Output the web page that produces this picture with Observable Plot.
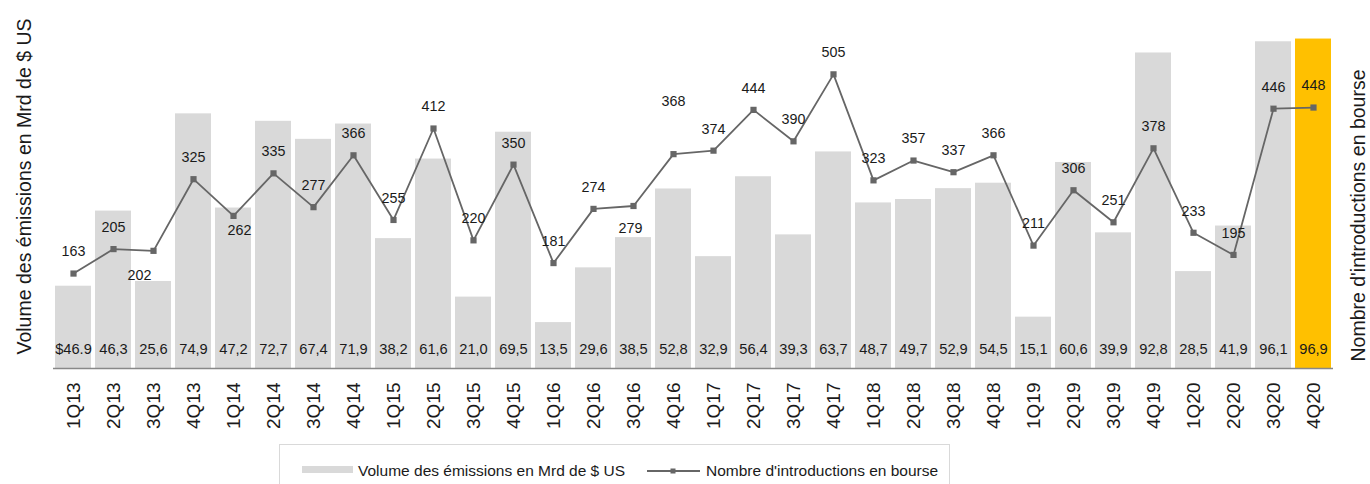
<!DOCTYPE html>
<html>
<head>
<meta charset="utf-8">
<script src="https://cdn.jsdelivr.net/npm/d3@7"></script>
<script src="https://cdn.jsdelivr.net/npm/@observablehq/plot@0.6"></script>
<style>
  body { margin: 0; background: #fff; font-family: "Liberation Sans", Arial, sans-serif; }
  #wrap { position: relative; width: 1370px; height: 484px; overflow: hidden; }
  #legend { position: absolute; left: 279px; top: 444px; width: 671px; height: 60px;
            border: 1px solid #d9d9d9; box-sizing: border-box; color: #1a1a1a; font-size: 15.5px; }
  #legend .sw { position: absolute; left: 22px; top: 21px; width: 51px; height: 7px; background: #d9d9d9; }
  #legend .t { position: absolute; top: 18px; line-height: 16px; white-space: nowrap; }
  #legend svg { position: absolute; left: 367px; top: 19px; }
</style>
</head>
<body>
<div id="wrap">
  <div id="chart"></div>
  <div id="legend">
    <div class="sw"></div>
    <div class="t" style="left:78px">Volume des émissions en Mrd de $ US</div>
    <svg width="54" height="14"><line x1="0" y1="7" x2="53" y2="7" stroke="#666" stroke-width="1.8"/><rect x="23.5" y="4.5" width="5" height="5" fill="#666"/></svg>
    <div class="t" style="left:426px">Nombre d'introductions en bourse</div>
  </div>
</div>
<script>
const quarters = ["1Q13","2Q13","3Q13","4Q13","1Q14","2Q14","3Q14","4Q14","1Q15","2Q15","3Q15","4Q15",
  "1Q16","2Q16","3Q16","4Q16","1Q17","2Q17","3Q17","4Q17","1Q18","2Q18","3Q18","4Q18",
  "1Q19","2Q19","3Q19","4Q19","1Q20","2Q20","3Q20","4Q20"];
// bar heights as drawn in the picture
const volumes = [24.2,46.3,25.6,74.9,47.2,72.7,67.4,71.9,38.2,61.6,21.0,69.5,
  13.5,29.6,38.5,52.8,32.9,56.4,39.3,63.7,48.7,49.7,52.9,54.5,
  15.1,60.6,39.9,92.8,28.5,41.9,96.1,96.9];
// bar labels as printed in the picture
const volumeLabels = ["$46.9","46,3","25,6","74,9","47,2","72,7","67,4","71,9","38,2","61,6","21,0","69,5",
  "13,5","29,6","38,5","52,8","32,9","56,4","39,3","63,7","48,7","49,7","52,9","54,5",
  "15,1","60,6","39,9","92,8","28,5","41,9","96,1","96,9"];
const ipoCounts = [163,205,202,325,262,335,277,366,255,412,220,350,
  181,274,279,368,374,444,390,505,323,357,337,366,
  211,306,251,378,233,195,446,448];
const highlight = "4Q20";
const leftTitle = "Volume des émissions en Mrd de $ US";
const rightTitle = "Nombre d'introductions en bourse";

// secondary axis: counts mapped onto the primary (volume) scale
const countMax = 583.7; // count value at the top of the volume axis (100)
const rows = quarters.map((q, i) => ({
  q, vol: volumes[i], volLabel: volumeLabels[i], count: ipoCounts[i],
  countY: ipoCounts[i] * 100 / countMax
}));

// label placement tweaks (layout only)
const nudges = {"3Q13": [-14, 25], "1Q14": [6, 15], "3Q16": [-3, 22.6], "4Q16": [0, -52.7]};
const defaultNudge = [0, -21.7];

const labelMarks = [];
const plain = rows.filter(d => !nudges[d.q]);
labelMarks.push(Plot.text(plain, {x: "q", y: "countY", text: d => String(d.count),
  dx: defaultNudge[0], dy: defaultNudge[1], fontSize: 14.3, fill: "#1a1a1a", lineAnchor: "middle"}));
for (const [q, [dx, dy]] of Object.entries(nudges)) {
  labelMarks.push(Plot.text(rows.filter(d => d.q === q), {x: "q", y: "countY", text: d => String(d.count),
    dx, dy, fontSize: 14.3, fill: "#1a1a1a", lineAnchor: "middle"}));
}

const chart = Plot.plot({
  width: 1370,
  height: 440,
  marginLeft: 53,
  marginRight: 37,
  marginTop: 28,
  marginBottom: 72,
  style: {fontFamily: "'Liberation Sans', Arial, sans-serif", background: "#fff", overflow: "visible"},
  x: {domain: quarters, paddingInner: 0.1, paddingOuter: 0.05, label: null},
  y: {domain: [0, 100], label: null, axis: null},
  marks: [
    Plot.barY(rows, {x: "q", y: "vol", fill: d => d.q === highlight ? "#ffc000" : "#d9d9d9"}),
    Plot.ruleY([0], {stroke: "#888", strokeWidth: 1.3}),
    Plot.text(rows, {x: "q", y: 0, text: "volLabel", dy: -19, fontSize: 14.67, fill: "#1a1a1a", lineAnchor: "middle"}),
    Plot.line(rows, {x: "q", y: "countY", stroke: "#666", strokeWidth: 1.8}),
    Plot.dot(rows, {x: "q", y: "countY", symbol: "square", r: 3.5, fill: "#666", stroke: "none"}),
    ...labelMarks,
    Plot.axisX({tickRotate: -90, tickSize: 0, tickPadding: 14, fontSize: 19, label: null, fill: "#1a1a1a"}),
    Plot.text([leftTitle], {frameAnchor: "left", text: d => d, rotate: -90, dx: -29, dy: -12,
      textAnchor: "middle", fontSize: 19.5, fill: "#1a1a1a", lineAnchor: "middle"}),
    Plot.text([rightTitle], {frameAnchor: "right", text: d => d, rotate: -90, dx: 25.5, dy: 17,
      textAnchor: "middle", fontSize: 19.5, fill: "#1a1a1a", lineAnchor: "middle"})
  ]
});
document.getElementById("chart").appendChild(chart);
</script>
</body>
</html>
